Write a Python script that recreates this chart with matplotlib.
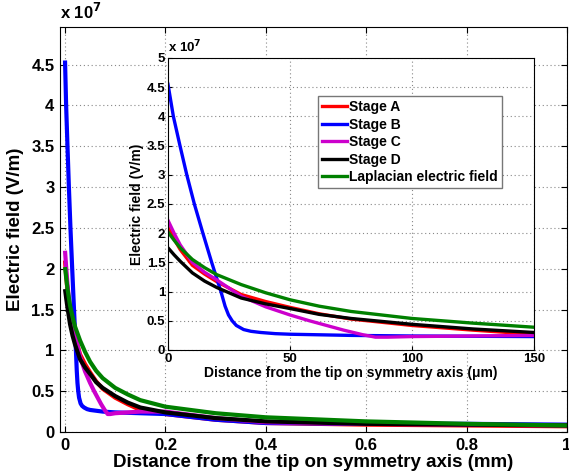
import matplotlib
matplotlib.use('Agg')
import matplotlib.pyplot as plt
import numpy as np

# Electric field along the symmetry axis, in units of 1e7 V/m, distance in micrometres
x_common = [0, 2.5, 5, 10, 15, 20, 30, 40, 50, 62, 75, 100, 125, 150,
            200, 300, 400, 600, 800, 1000]
stage_a = [2.10, 1.90, 1.72, 1.45, 1.30, 1.17, 0.95, 0.83, 0.73, 0.62, 0.53, 0.42, 0.34, 0.27,
           0.22, 0.15, 0.11, 0.09, 0.08, 0.07]
stage_d = [1.75, 1.63, 1.52, 1.32, 1.18, 1.07, 0.89, 0.79, 0.71, 0.61, 0.54, 0.44, 0.36, 0.30,
           0.24, 0.17, 0.13, 0.10, 0.09, 0.08]
laplace = [2.02, 1.88, 1.75, 1.55, 1.41, 1.29, 1.12, 0.98, 0.86, 0.75, 0.66, 0.54, 0.46, 0.39,
           0.31, 0.23, 0.18, 0.13, 0.10, 0.08]

x_b = [0, 2.2, 4.9, 7.7, 10.8, 14.3, 17.9, 21.7, 23.4, 24.8, 26.3, 28, 31, 34, 38, 44, 50,
       75, 100, 150, 200, 300, 400, 600, 800, 1000]
stage_b = [4.55, 4.0, 3.5, 3.0, 2.5, 2.0, 1.5, 1.0, 0.75, 0.60, 0.50, 0.42, 0.35, 0.32, 0.30, 0.28, 0.27,
           0.25, 0.24, 0.23, 0.22, 0.15, 0.11, 0.10, 0.10, 0.09]

x_c = [0, 2.5, 5, 10, 15, 20, 30, 40, 50, 58, 65, 72, 80, 85, 90, 100, 125, 150,
       200, 300, 400, 600, 800, 1000]
stage_c = [2.22, 2.00, 1.80, 1.50, 1.33, 1.20, 0.92, 0.74, 0.60, 0.50, 0.42, 0.34, 0.26, 0.22, 0.22,
           0.23, 0.24, 0.25, 0.25, 0.17, 0.12, 0.10, 0.09, 0.08]

series = [
    ('Stage A', x_common, stage_a, '#ff0000'),
    ('Stage B', x_b, stage_b, '#0000ff'),
    ('Stage C', x_c, stage_c, '#cc00cc'),
    ('Stage D', x_common, stage_d, '#000000'),
    ('Laplacian electric field', x_common, laplace, '#008000'),
]

plt.rcParams['font.family'] = ['Liberation Sans', 'DejaVu Sans']
plt.rcParams['font.weight'] = 'bold'
plt.rcParams['axes.labelweight'] = 'bold'
plt.rcParams['mathtext.default'] = 'bf'

W, H = 569, 475
fig = plt.figure(figsize=(W / 100, H / 100), dpi=100)

def px_rect(left, top, right, bottom):
    return [left / W, 1 - bottom / H, (right - left) / W, (bottom - top) / H]

grid_kw = dict(color='#888888', linestyle=(0, (1, 2.5)), linewidth=0.8)

# main axes
ax = fig.add_axes(px_rect(60, 27, 567, 432))
for name, x, y, c in series:
    ax.plot(np.array(x) / 1000.0, y, color=c, lw=3.0, solid_capstyle='butt')
ax.set_xlim(-0.01, 1.0)
ax.set_ylim(0, 4.96)
ax.set_xticks([0, 0.2, 0.4, 0.6, 0.8, 1.0])
ax.set_xticklabels(['0', '0.2', '0.4', '0.6', '0.8', '1'])
ax.set_yticks(np.arange(0, 4.51, 0.5))
ax.set_yticklabels(['0', '0.5', '1', '1.5', '2', '2.5', '3', '3.5', '4', '4.5'])
ax.tick_params(direction='in', labelsize=12, length=4, top=True, right=True, pad=4)
ax.grid(True, **grid_kw)
ax.set_xlabel('Distance from the tip on symmetry axis (mm)', fontsize=13.5, labelpad=1)
ax.set_ylabel('Electric field (V/m)', fontsize=13.5, labelpad=5)
ax.text(0.0, 1.012, r'x 10$^{7}$', transform=ax.transAxes, fontsize=12, ha='left', va='bottom')

# inset axes
ins = fig.add_axes(px_rect(168, 58, 534, 350))
for name, x, y, c in series:
    ins.plot(x, y, color=c, lw=2.4, label=name)
ins.set_xlim(0, 150)
ins.set_ylim(0, 5)
ins.set_xticks([0, 50, 100, 150])
ins.set_yticks(np.arange(0, 5.01, 0.5))
ins.set_yticklabels(['0', '0.5', '1', '1.5', '2', '2.5', '3', '3.5', '4', '4.5', '5'])
ins.tick_params(direction='in', labelsize=9.5, length=3, pad=2)
ins.grid(True, **grid_kw)
ins.set_xlabel('Distance from the tip on symmetry axis (\u03bcm)', fontsize=10, labelpad=1)
ins.set_ylabel('Electric field (V/m)', fontsize=10, labelpad=2)
ins.text(0.0, 1.008, r'x 10$^{7}$', transform=ins.transAxes, fontsize=9.5, ha='left', va='bottom')
leg = ins.legend(loc='upper left', bbox_to_anchor=(0.41, 0.87), borderaxespad=0,
                 fontsize=10, handlelength=1.75, handletextpad=0.15, labelspacing=0.25,
                 borderpad=0.3, fancybox=False, framealpha=1)
leg.get_frame().set_edgecolor('#777777')
leg.get_frame().set_linewidth(1.0)

fig.savefig('out.png', dpi=100)
